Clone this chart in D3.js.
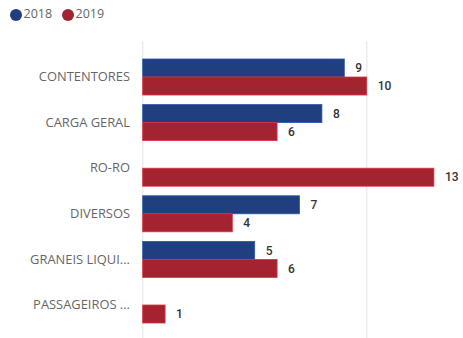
<!DOCTYPE html>
<html>
<head>
<meta charset="utf-8">
<script src="https://cdn.jsdelivr.net/npm/d3@7"></script>
<style>
  html, body { margin: 0; padding: 0; background: #fff; }
  svg { display: block; }
</style>
</head>
<body>
<svg id="chart" width="463" height="338"></svg>
<script>
// Movement by cargo type, 2018 vs 2019
const categories = ["CONTENTORES", "CARGA GERAL", "RO-RO", "DIVERSOS", "GRANEIS LIQUI...", "PASSAGEIROS ..."];
const series = ["2018", "2019"];
const values2018 = [9, 8, null, 7, 5, null];
const values2019 = [10, 6, 13, 4, 6, 1];
const gridTicks = [0, 10];
const colors = ["#1f3f7e", "#a32330"];

const svg = d3.select("#chart");
const W = 463, H = 338;

const x = d3.scaleLinear().domain([0, 10]).range([142.7, 366.7]);
const y = d3.scaleBand().domain(categories).range([54.2, 327.8]).paddingInner(0.21).paddingOuter(0.105);
const ySub = d3.scaleBand().domain(series).range([0, y.bandwidth()]);

// gridlines
svg.append("g")
  .selectAll("line")
  .data(gridTicks)
  .join("line")
  .attr("x1", d => x(d)).attr("x2", d => x(d))
  .attr("y1", 41).attr("y2", H)
  .attr("stroke", "#ececec")
  .attr("stroke-width", 1.5);

// category axis
const yAxis = d3.axisLeft(y).tickSize(0).tickPadding(12.7);
const ga = svg.append("g").attr("transform", `translate(${x(0)},0)`).call(yAxis);
ga.select(".domain").remove();
ga.selectAll("text")
  .attr("fill", "#666")
  .style("font-family", "'Open Sans', 'Noto Sans', sans-serif")
  .style("font-size", "12.9px");

// bars
const rows = categories.map((c, i) => ({ cat: c, vals: [values2018[i], values2019[i]] }));
const groups = svg.append("g").selectAll("g")
  .data(rows)
  .join("g")
  .attr("transform", d => `translate(0,${y(d.cat)})`);

const cells = groups.selectAll("g")
  .data(d => d.vals.map((v, j) => ({ s: series[j], v, j })).filter(e => e.v != null))
  .join("g");

cells.append("rect")
  .attr("x", x(0))
  .attr("y", d => ySub(d.s))
  .attr("width", d => x(d.v) - x(0))
  .attr("height", ySub.bandwidth())
  .attr("fill", d => colors[d.j])
  .attr("stroke", d => d3.color(colors[d.j]).brighter(0.9))
  .attr("stroke-width", 0.8);

cells.append("text")
  .attr("x", d => x(d.v) + 11)
  .attr("y", d => ySub(d.s) + ySub.bandwidth() / 2 + 1)
  .attr("dominant-baseline", "middle")
  .attr("fill", "#333")
  .style("font-family", "Roboto, 'DejaVu Sans', sans-serif")
  .style("font-weight", "500")
  .style("font-size", "12px")
  .text(d => d.v);

// legend
const legend = svg.append("g");
const lx = [16, 68];
series.forEach((s, i) => {
  legend.append("circle")
    .attr("cx", lx[i]).attr("cy", 15).attr("r", 6)
    .attr("fill", colors[i]);
  legend.append("text")
    .attr("x", lx[i] + 7.5).attr("y", 15)
    .attr("dominant-baseline", "middle")
    .attr("fill", "#666")
    .style("font-family", "'Open Sans', 'Noto Sans', sans-serif")
    .style("font-size", "12.5px")
    .text(s);
});
</script>
</body>
</html>
